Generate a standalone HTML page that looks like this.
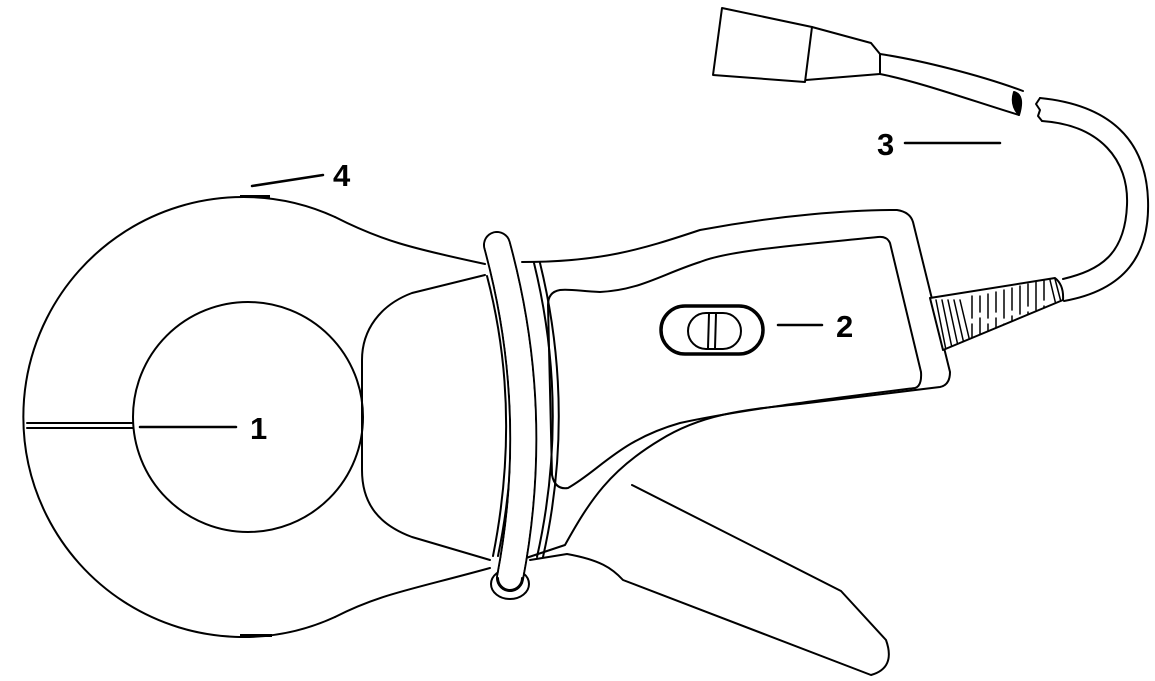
<!DOCTYPE html>
<html><head><style>
html,body{margin:0;padding:0;background:#fff;width:1155px;height:681px;overflow:hidden}
svg{display:block}
text{font-family:"Liberation Sans",Arial,sans-serif;font-weight:bold;font-size:31px;fill:#000}
</style></head><body>
<svg width="1155" height="681" viewBox="0 0 1155 681" fill="none" stroke="#000" stroke-width="2" stroke-linejoin="round" stroke-linecap="round">
<defs><clipPath id="sr"><path d="M930,298 L1055,278 Q1064,285 1063,300 L943,350 Z"/></clipPath></defs>
<!-- ring outer -->
<path d="M335,217 A220,220 0 1 0 335,617" fill="#fff"/>
<path d="M335,217 C380,240 410,248 485,264"/>
<path d="M335,617 C380,594 410,590 490,568"/>
<rect x="240" y="195" width="30" height="3" fill="#000" stroke="none"/>
<rect x="240" y="634" width="32" height="3" fill="#000" stroke="none"/>
<path d="M27,423 L133,423 M27,428 L133,428"/>
<ellipse cx="248" cy="417" rx="115" ry="115" fill="#fff"/>
<!-- jaw block -->
<path d="M485,275 L412,293 C380,305 362,330 362,360 L362,470 C362,505 380,525 412,537 L490,560"/>
<path d="M487,276 Q522,410 493,556"/>
<path d="M492,274 Q528,410 498,556"/>
<!-- handle outer -->
<path d="M522,262 C600,262 640,250 700,230 C780,215 850,210 897,210 Q910,212 913,222 L950,372 Q950,385 940,387 L800,404 C740,410 700,415 660,440 C610,470 590,500 565,545 L520,560"/>
<path d="M534,263 Q570,410 537,557"/>
<path d="M540,263 Q576,410 543,557"/>
<!-- inner panel -->
<path d="M560,290 Q548,292 548,305 L552,475 Q555,490 568,488 C600,470 620,440 680,423 C740,410 820,400 915,388 Q922,386 921,372 L890,243 Q887,236 878,237 C800,245 730,250 700,262 C660,275 640,290 600,292 C580,291 570,289 560,290 Z"/>
<!-- trigger -->
<path d="M632,485 L841,591 L886,640 Q896,668 871,675 L623,580 C612,568 600,560 567,554 L530,560"/>
<!-- strap band -->
<path d="M497,245 Q542,410 510,578" stroke-width="28"/>
<path d="M497,245 Q542,410 510,578" stroke="#fff" stroke-width="24"/>
<ellipse cx="510" cy="584" rx="19" ry="15"/>
<path d="M497,245 Q542,410 510,578" stroke="#fff" stroke-width="24"/>
<path d="M510,578 m-12,0 a12,12 0 0 0 24,0"/>
<!-- switch -->
<rect x="661" y="306" width="102" height="48" rx="24" stroke-width="3.5" fill="#fff"/>
<rect x="688" y="313" width="53" height="36" rx="18" fill="#fff"/>
<path d="M709,314 L708,348 M716,314 L715,348"/>
<!-- strain relief -->
<path d="M930,298 L1055,278 Q1064,285 1063,300 L943,350 Z" fill="#fff"/>
<g stroke-width="1.5" clip-path="url(#sr)">
<path d="M936,300 L946,350 M942,300 L952,348 M948,300 L958,346 M954,300 L964,344 M960,300 L970,342"/>
<path d="M972,296 L972,318 M972,324 L972,345 M980,296 L980,312 M980,318 L980,345 M988,294 L988,318 M988,324 L988,340 M996,292 L996,312 M996,318 L996,340 M1004,290 L1004,318 M1004,324 L1004,336 M1012,288 L1012,310 M1012,316 L1012,333 M1020,286 L1020,314 M1020,320 L1020,330 M1028,284 L1028,306 M1028,312 L1028,328 M1036,282 L1036,310 M1044,280 L1044,300 M1044,306 L1044,320"/>
<path d="M1050,280 L1056,305 M1055,279 L1061,302"/>
</g>
<!-- cable lower -->
<path d="M1063,279 C1100,270 1125,255 1127,205 C1129,160 1100,125 1042,121" fill="none"/>
<path d="M1064,301 C1125,290 1150,255 1148,200 C1146,140 1110,105 1040,98" fill="none"/>
<path d="M1040,98 L1036,104 L1040,110 L1038,116 L1042,121"/>
<!-- top plug -->
<path d="M722,8 L812,27 L805,82 L713,75 Z" fill="#fff"/>
<path d="M812,27 L871,43 L880,54 L880,74 L806,80"/>
<path d="M880,54 C920,60 980,75 1023,91 M880,74 C920,82 970,100 1019,115"/>
<path d="M1014,92 Q1025,95 1019,115 Q1010,105 1014,92 Z" fill="#000"/>
<!-- leaders -->
<path d="M140,427 L236,427 M778,325 L822,325 M905,143 L1000,143 M252,186 L323,175" stroke-width="2.5"/>
<text x="250" y="439" stroke="none">1</text>
<text x="836" y="337" stroke="none">2</text>
<text x="877" y="155" stroke="none">3</text>
<text x="333" y="186" stroke="none">4</text>
</svg>
</body></html>
